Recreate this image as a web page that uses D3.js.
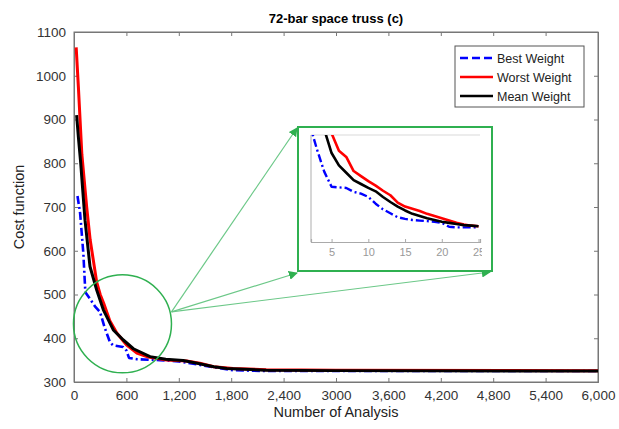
<!DOCTYPE html>
<html>
<head>
<meta charset="utf-8">
<script src="https://cdn.jsdelivr.net/npm/d3@7"></script>
<style>
  body { margin: 0; background: #fff; }
  svg { font-family: "Liberation Sans", Arial, sans-serif; }
</style>
</head>
<body>
<div id="chart"></div>
<script>
// main chart data (number of analysis, cost)
const bestAnalysis = [40, 70, 107, 130, 183, 240, 298, 350, 412, 447, 561, 600, 630, 721, 985, 1200, 1443, 1650, 1820, 2200, 6000];
const bestCost = [725, 686, 594, 505, 490, 473, 460, 425, 391, 384, 380, 372, 355, 352, 350, 347, 339, 332, 327, 325, 325];

const worstAnalysis = [25, 50, 90, 145, 185, 220, 260, 300, 340, 410, 490, 600, 720, 850, 1060, 1290, 1440, 1600, 1820, 2200, 3000, 6000];
const worstCost = [1065, 975, 820, 700, 625, 580, 528, 500, 480, 440, 412, 385, 366, 357, 350, 348, 343, 335, 331, 328, 327, 326];

const meanAnalysis = [30, 50, 77, 126, 183, 260, 336, 450, 565, 680, 870, 1050, 1250, 1410, 1600, 1750, 2200, 3000, 6000];
const meanCost = [910, 860, 800, 670, 564, 510, 465, 419, 396, 376, 358, 352, 349, 343, 335, 331, 327, 326, 325];

// inset data (iteration, cost)
const insetIter = d3.range(2, 26);
const insetBest = [540, 495, 455, 428, 427, 426, 419, 416, 410, 398, 388, 381, 374, 371, 369, 368, 367, 366, 364, 357, 356, 356, 356, 356];
const insetWorst = [640, 610, 570, 523, 492, 481, 456, 447, 438, 430, 421, 413, 400, 393, 389, 385, 380, 376, 372, 368, 364, 361, 359, 358];
const insetMean = [620, 580, 530, 488, 466, 453, 440, 433, 426, 420, 410, 401, 393, 386, 380, 376, 372, 369, 366, 364, 362, 360, 359, 358];

const xTicks = [0, 600, 1200, 1800, 2400, 3000, 3600, 4200, 4800, 5400, 6000];
const xTickLabels = ["0", "600", "1,200", "1,800", "2,400", "3000", "3,600", "4,200", "4,800", "5,400", "6,000"];
const yTicks = [300, 400, 500, 600, 700, 800, 900, 1000, 1100];
const insetTicks = [5, 10, 15, 20, 25];

const seriesNames = ["Best Weight", "Worst Weight", "Mean Weight"];
const seriesColors = ["#0000ff", "#ff0000", "#000000"];

// zoom circle centre in data space
const zoomCentre = [555, 433];

const width = 619, height = 429;
const margin = { top: 32, right: 21, bottom: 47, left: 74 };
const green = "#2fb050";
const lightGreen = "#6cc888";

const svg = d3.select("#chart").append("svg")
  .attr("width", width).attr("height", height);

const x = d3.scaleLinear().domain([0, 6000]).range([margin.left, width - margin.right]);
const y = d3.scaleLinear().domain([300, 1100]).range([height - margin.bottom, margin.top]);

// frame
svg.append("rect")
  .attr("x", x(0)).attr("y", y(1100))
  .attr("width", x(6000) - x(0)).attr("height", y(300) - y(1100))
  .attr("fill", "none").attr("stroke", "#777").attr("stroke-width", 1);

// axes (ticks pointing inward)
const xAxis = d3.axisBottom(x).tickValues(xTicks).tickSize(-4).tickPadding(8)
  .tickFormat((d, i) => xTickLabels[i]);
const xAxisTop = d3.axisTop(x).tickValues(xTicks).tickSize(-4).tickFormat("");
const yAxis = d3.axisLeft(y).tickValues(yTicks).tickSize(-4).tickPadding(8).tickFormat(d3.format("d"));
const yAxisRight = d3.axisRight(y).tickValues(yTicks).tickSize(-4).tickFormat("");

function styleAxis(g) {
  g.select(".domain").attr("stroke", "#777");
  g.selectAll(".tick line").attr("stroke", "#777");
  g.selectAll(".tick text").attr("fill", "#333").style("font-size", "13.5px");
}

svg.append("g").attr("transform", `translate(0,${y(300)})`).call(xAxis).call(styleAxis);
svg.append("g").attr("transform", `translate(0,${y(1100)})`).call(xAxisTop).call(styleAxis);
svg.append("g").attr("transform", `translate(${x(0)},0)`).call(yAxis).call(styleAxis);
svg.append("g").attr("transform", `translate(${x(6000)},0)`).call(yAxisRight).call(styleAxis);

// title and labels
svg.append("text")
  .attr("x", (x(0) + x(6000)) / 2).attr("y", 23)
  .attr("text-anchor", "middle")
  .style("font-size", "13px").style("font-weight", "bold")
  .text("72-bar space truss (c)");

svg.append("text")
  .attr("x", (x(0) + x(6000)) / 2).attr("y", 417)
  .attr("text-anchor", "middle")
  .style("font-size", "14.5px").attr("fill", "#222")
  .text("Number of Analysis");

svg.append("text")
  .attr("transform", `translate(24,${(y(300) + y(1100)) / 2}) rotate(-90)`)
  .attr("text-anchor", "middle")
  .style("font-size", "14.5px").attr("fill", "#222")
  .text("Cost function");

// curves
const line = d3.line().x(d => x(d[0])).y(d => y(d[1]));
const mainSeries = [
  d3.zip(bestAnalysis, bestCost),
  d3.zip(worstAnalysis, worstCost),
  d3.zip(meanAnalysis, meanCost)
];
const dashes = ["8,3,2,3", null, null];

mainSeries.forEach((pts, i) => {
  svg.append("path")
    .datum(pts)
    .attr("d", line)
    .attr("fill", "none")
    .attr("stroke", seriesColors[i])
    .attr("stroke-width", i === 0 ? 2.6 : 3)
    .attr("stroke-dasharray", dashes[i])
    .attr("stroke-linejoin", "round");
});

// legend
const legend = svg.append("g").attr("transform", "translate(455,46)");
legend.append("rect")
  .attr("width", 129).attr("height", 61)
  .attr("fill", "#fff").attr("stroke", "#555").attr("stroke-width", 1);
seriesNames.forEach((name, i) => {
  const ly = 12 + i * 19;
  legend.append("line")
    .attr("x1", 5).attr("x2", 38).attr("y1", ly).attr("y2", ly)
    .attr("stroke", seriesColors[i]).attr("stroke-width", 2.6)
    .attr("stroke-dasharray", i === 0 ? "8,4" : null);
  legend.append("text")
    .attr("x", 42).attr("y", ly + 4.5)
    .style("font-size", "12.5px").attr("fill", "#222")
    .text(name);
});

// zoom circle
const cx = x(zoomCentre[0]), cy = y(zoomCentre[1]);
const r = 49;
svg.append("circle")
  .attr("cx", cx).attr("cy", cy).attr("r", r)
  .attr("fill", "none").attr("stroke", green).attr("stroke-width", 1.5);

// inset box
const box = { x: 298, y: 127, w: 194, h: 144 };
const defs = svg.append("defs");
defs.append("marker")
  .attr("id", "arrow").attr("viewBox", "0 0 10 10")
  .attr("refX", 9).attr("refY", 5)
  .attr("markerWidth", 9).attr("markerHeight", 9)
  .attr("markerUnits", "userSpaceOnUse")
  .attr("orient", "auto")
  .append("path").attr("d", "M0,0 L10,5 L0,10 z").attr("fill", green);

const ax = cx + r, ay = cy - 12;
[[box.x - 1, box.y + 1], [box.x - 1, box.y + box.h + 2], [box.x + box.w - 2, box.y + box.h + 1]]
  .forEach(p => {
    svg.append("line")
      .attr("x1", ax).attr("y1", ay).attr("x2", p[0]).attr("y2", p[1])
      .attr("stroke", lightGreen).attr("stroke-width", 1.2)
      .attr("marker-end", "url(#arrow)");
  });

svg.append("rect")
  .attr("x", box.x).attr("y", box.y).attr("width", box.w).attr("height", box.h)
  .attr("fill", "#fff").attr("stroke", green).attr("stroke-width", 2);

// inset plot
const ix = d3.scaleLinear().domain([2.2, 25.2]).range([311, 480]);
const iy = d3.scaleLinear().domain([330, 520]).range([242, 135]);

defs.append("clipPath").attr("id", "insetClip")
  .append("rect").attr("x", 311).attr("y", 135).attr("width", 170).attr("height", 107);
defs.append("clipPath").attr("id", "insetBoxClip")
  .append("rect").attr("x", box.x + 1).attr("y", box.y + 1).attr("width", 183).attr("height", box.h - 2);

const inset = svg.append("g").attr("clip-path", "url(#insetBoxClip)");

inset.append("line")
  .attr("x1", 311).attr("x2", 480).attr("y1", 135).attr("y2", 135)
  .attr("stroke", "#e6e6e6").attr("stroke-width", 1.5);
inset.append("line")
  .attr("x1", 311).attr("x2", 311).attr("y1", 135).attr("y2", 242)
  .attr("stroke", "#bbb").attr("stroke-width", 1.2);

const iAxis = d3.axisBottom(ix).tickValues(insetTicks).tickSize(-3).tickPadding(6);
inset.append("g").attr("transform", "translate(0,242)").call(iAxis)
  .call(g => {
    g.select(".domain").attr("stroke", "#aaa").attr("stroke-width", 1.2);
    g.selectAll(".tick line").attr("stroke", "#aaa");
    g.selectAll(".tick text").attr("fill", "#999").style("font-size", "11px");
  });

const iline = d3.line().x(d => ix(d[0])).y(d => iy(d[1]));
const insetCurves = inset.append("g").attr("clip-path", "url(#insetClip)");
[insetBest, insetWorst, insetMean].forEach((vals, i) => {
  insetCurves.append("path")
    .datum(d3.zip(insetIter, vals))
    .attr("d", iline)
    .attr("fill", "none")
    .attr("stroke", seriesColors[i])
    .attr("stroke-width", i === 0 ? 2.4 : 2.6)
    .attr("stroke-dasharray", dashes[i])
    .attr("stroke-linejoin", "round");
});
</script>
</body>
</html>
